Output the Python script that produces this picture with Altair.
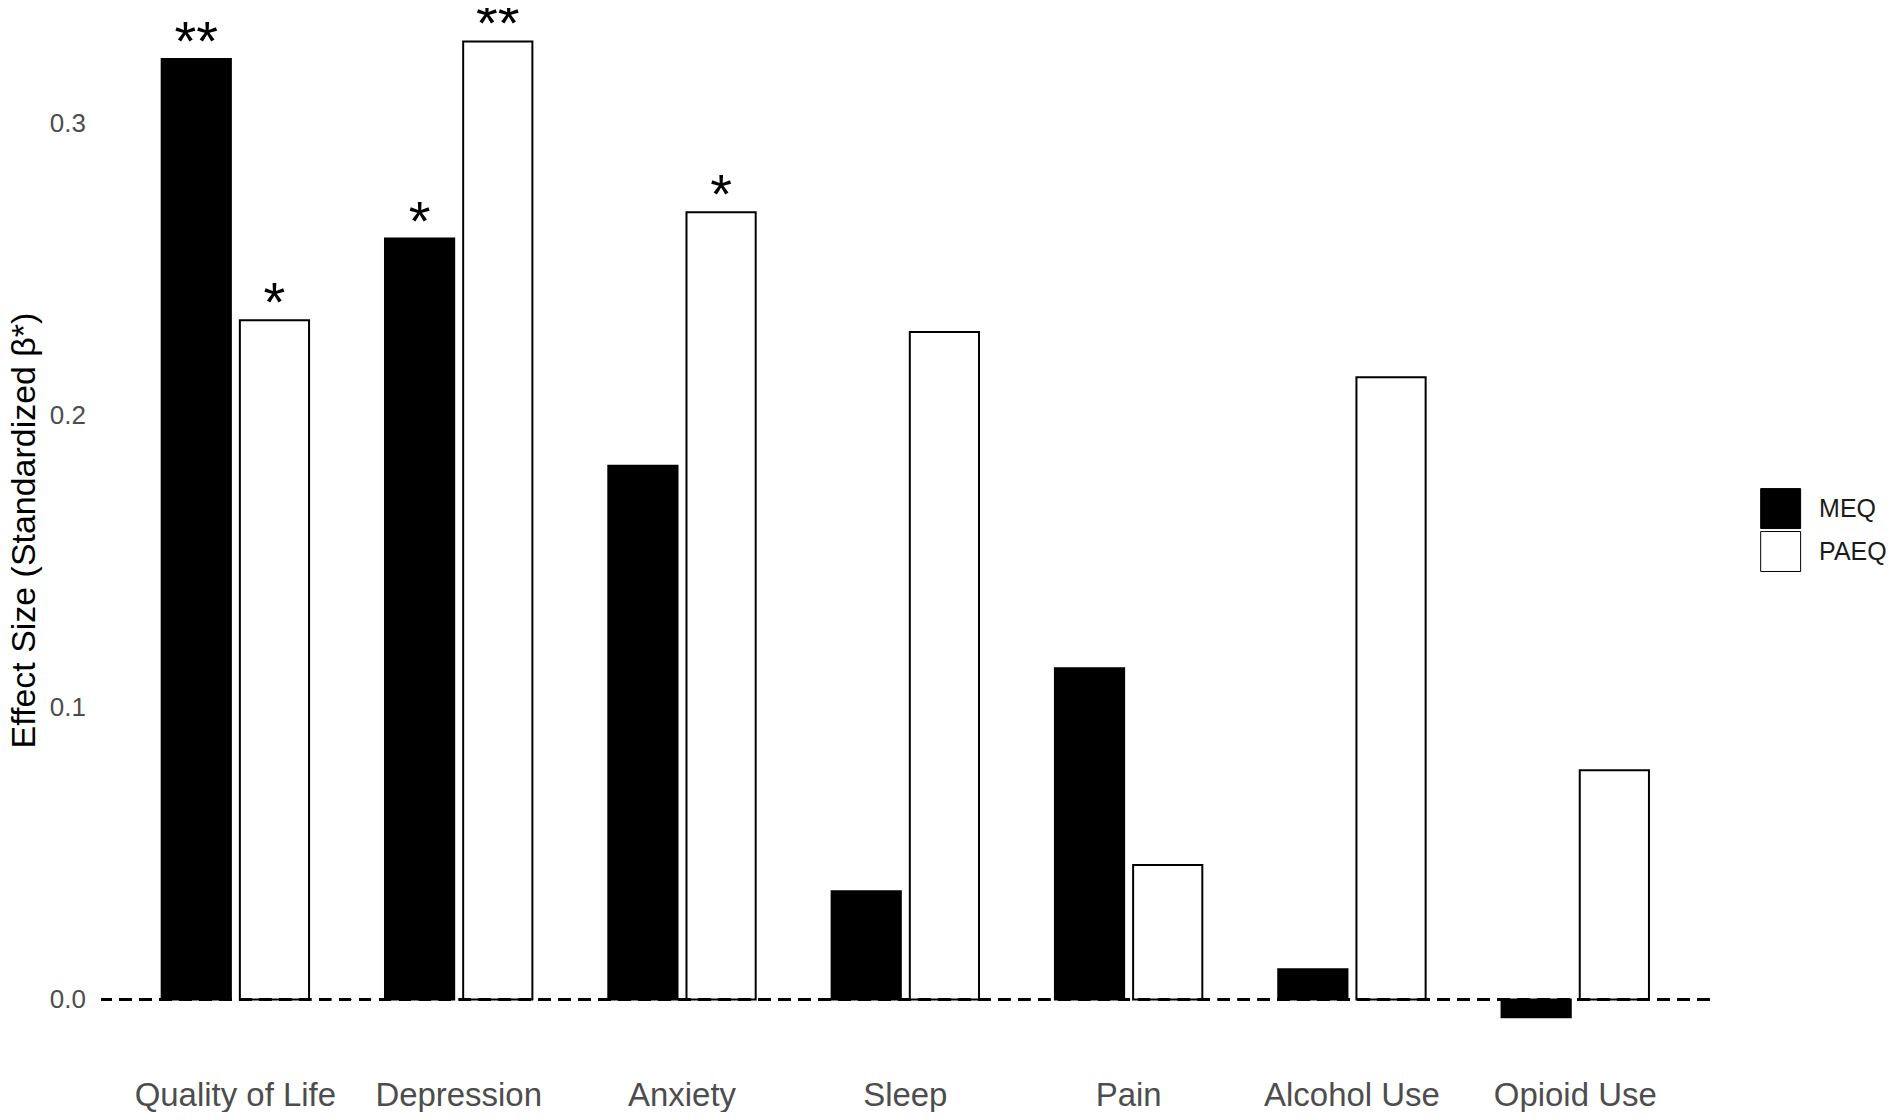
import altair as alt
import pandas as pd

categories = ["Quality of Life", "Depression", "Anxiety", "Sleep", "Pain", "Alcohol Use", "Opioid Use"]
measures = ["MEQ", "PAEQ"]
meq = [0.322, 0.2605, 0.1827, 0.037, 0.1134, 0.0103, -0.0061]
paeq = [0.2325, 0.328, 0.2695, 0.2285, 0.046, 0.213, 0.0785]
meq_sig = ["**", "*", "", "", "", "", ""]
paeq_sig = ["*", "**", "*", "", "", "", ""]

rows = []
for i, c in enumerate(categories):
    rows.append({"outcome": c, "measure": "MEQ", "beta": meq[i], "sig": meq_sig[i]})
    rows.append({"outcome": c, "measure": "PAEQ", "beta": paeq[i], "sig": paeq_sig[i]})
df = pd.DataFrame(rows)

FONT = "Liberation Sans"

x_enc = alt.X(
    "outcome:N",
    sort=categories,
    scale=alt.Scale(paddingInner=0.34, paddingOuter=0.27),
    axis=alt.Axis(
        title=None, labelAngle=0, ticks=False, domain=False, grid=False,
        labelFontSize=33, labelColor="#4d4d4d", labelFont=FONT, labelLimit=0,
        labelBaseline="alphabetic", labelPadding=51,
    ),
)
xoff_enc = alt.XOffset("measure:N", sort=measures,
                       scale=alt.Scale(paddingInner=0.115, paddingOuter=0))
y_scale = alt.Scale(domain=[-0.0188, 0.3392], nice=False, zero=False)

bars = alt.Chart(df).mark_bar(stroke="black", strokeWidth=2).encode(
    x=x_enc,
    xOffset=xoff_enc,
    y=alt.Y(
        "beta:Q",
        scale=y_scale,
        axis=alt.Axis(
            values=[0, 0.1, 0.2, 0.3], format=".1f", grid=False, ticks=False, domain=False,
            labelFontSize=26, labelColor="#4d4d4d", labelFont=FONT, labelPadding=16,
            title="Effect Size (Standardized β*)", titleFontSize=34, titleColor="black",
            titleFont=FONT, titleFontWeight="normal", titleAngle=-90, titleX=-67, titleY=522,
            titleAlign="center", titleBaseline="alphabetic",
        ),
    ),
    y2=alt.datum(0),
    color=alt.Color(
        "measure:N",
        scale=alt.Scale(domain=measures, range=["black", "white"]),
        legend=alt.Legend(
            title=None, orient="none", legendX=1661, legendY=480,
            symbolType="square", symbolSize=1600, symbolStrokeColor="black",
            symbolStrokeWidth=1, symbolOpacity=1, labelFontSize=25, labelColor="#1a1a1a",
            labelFont=FONT, labelOffset=18, rowPadding=-2, padding=0,
        ),
    ),
)

zero_line = alt.Chart(df).mark_rule(color="black", strokeWidth=2.5, strokeDash=[12, 8]).encode(
    y=alt.datum(0, scale=y_scale)
)

stars = alt.Chart(df).transform_filter(alt.datum.sig != "").mark_text(
    fontSize=56, baseline="alphabetic", dy=1, color="black", font=FONT
).encode(
    x=alt.X("outcome:N", sort=categories),
    xOffset=alt.XOffset("measure:N", sort=measures),
    y=alt.Y("beta:Q"),
    text="sig:N",
)

chart = alt.layer(bars, zero_line, stars).properties(
    width=1610,
    height=1047,
    autosize=alt.AutoSizeParams(type="none"),
    padding={"left": 93.5, "top": 0, "right": 185, "bottom": 57},
).configure(
    font=FONT,
    view=alt.ViewConfig(stroke="transparent", strokeWidth=0),
)

chart.save("out.html", embed_options={"renderer": "svg", "actions": False})
